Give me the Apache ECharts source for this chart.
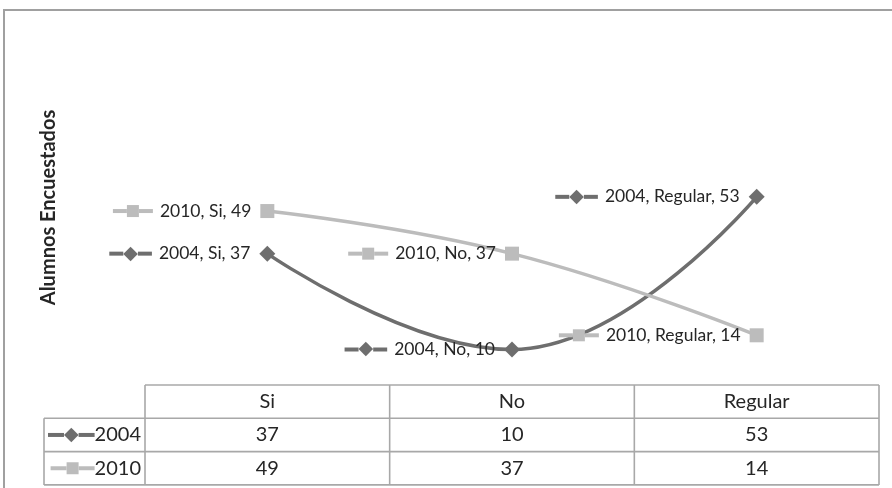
<!DOCTYPE html>
<html>
<head>
<meta charset="utf-8">
<script src="https://cdn.jsdelivr.net/npm/echarts@6/dist/echarts.min.js"></script>
<style>
  html, body { margin: 0; padding: 0; background: #ffffff; }
  #chart { width: 892px; height: 488px; }
</style>
</head>
<body>
<div id="chart"></div>
<script>
// Survey answers per year
const categories = ['Si', 'No', 'Regular'];
const seriesNames = ['2004', '2010'];
const values2004 = [37, 10, 53];
const values2010 = [49, 37, 14];
const yAxisTitle = 'Alumnos Encuestados';

const seriesValues = [values2004, values2010];
const FONT = 'Lato, "Open Sans", sans-serif';
const TEXT_COLOR = '#262626';
const COLORS = ['#6e6e6e', '#bcbcbc'];
const SYMBOLS = ['diamond', 'rect'];
const SYMBOL_SIZES = [16, 14];
const GRID_LINE = '#a8a8a8';
const ROW_H = 33.3;

// Rich-text styles for a small legend key (line + marker) inside a label
function keyRich(color, idx, lineW) {
  const rich = {};
  rich['ln' + idx] = { width: lineW, height: 4, backgroundColor: color };
  if (SYMBOLS[idx] === 'diamond') {
    rich['mk' + idx] = { color: color, fill: color, fontSize: 19, fontFamily: 'DejaVu Sans', lineHeight: 20 };
  } else {
    rich['mk' + idx] = { width: 12, height: 12, backgroundColor: color };
  }
  return rich;
}
function keyText(idx) {
  const mk = SYMBOLS[idx] === 'diamond' ? '◆' : ' ';
  return '{ln' + idx + '|}{mk' + idx + '|' + mk + '}{ln' + idx + '|}';
}

const chart = echarts.init(document.getElementById('chart'), null, { renderer: 'canvas' });

const series = seriesNames.map((name, i) => {
  const rich = Object.assign(keyRich(COLORS[i], i, 14), {
    gap: { width: 7 },
    t: { fontFamily: FONT, fontSize: 17.5, color: TEXT_COLOR, lineHeight: 20 }
  });
  return {
    name: name,
    type: 'line',
    smooth: 0.45,
    data: seriesValues[i],
    symbol: SYMBOLS[i],
    symbolSize: SYMBOL_SIZES[i],
    lineStyle: { color: COLORS[i], width: 3.5 },
    itemStyle: { color: COLORS[i] },
    label: {
      show: true,
      position: 'left',
      distance: 9,
      formatter: p => keyText(i) + '{gap|}{t|' + p.seriesName + ', ' + p.name + ', ' + p.value + '}',
      rich: rich
    }
  };
});

chart.setOption({
  animation: false,
  backgroundColor: '#ffffff',
  grid: { left: 145, right: 13, top: 30, bottom: 103, containLabel: false },
  xAxis: {
    type: 'category',
    data: categories,
    boundaryGap: true,
    axisLine: { show: false },
    axisTick: { show: false },
    axisLabel: { show: false },
    splitLine: { show: false }
  },
  yAxis: {
    type: 'value',
    min: 0,
    max: 100,
    name: yAxisTitle,
    nameLocation: 'middle',
    nameGap: 86,
    nameTextStyle: { fontFamily: FONT, fontSize: 20, fontWeight: 'bold', color: TEXT_COLOR },
    axisLine: { show: false },
    axisTick: { show: false },
    axisLabel: { show: false },
    splitLine: { show: false }
  },
  series: series
});

// Data table under the plot, aligned with the category axis
const c0 = chart.convertToPixel({ xAxisIndex: 0 }, categories[0]);
const c1 = chart.convertToPixel({ xAxisIndex: 0 }, categories[1]);
const band = c1 - c0;
const colLeft = c0 - band / 2;
const tableRight = colLeft + band * categories.length;
const tableTop = chart.convertToPixel({ yAxisIndex: 0 }, 0);
const legendLeft = 44;
const nRows = seriesNames.length + 1;

const elements = [];
// outer chart frame
elements.push({
  type: 'rect', silent: true,
  shape: { x: 4, y: 10, width: 1000, height: 1000 },
  style: { fill: 'none', stroke: '#a0a0a0', lineWidth: 2 }
});
const line = (x1, y1, x2, y2) => elements.push({
  type: 'line', silent: true,
  shape: { x1, y1, x2, y2 },
  style: { stroke: GRID_LINE, lineWidth: 1.6 }
});
// horizontal rules
line(colLeft, tableTop, tableRight, tableTop);
for (let r = 1; r <= nRows; r++) {
  line(legendLeft, tableTop + r * ROW_H, tableRight, tableTop + r * ROW_H);
}
// vertical rules
line(legendLeft, tableTop + ROW_H, legendLeft, tableTop + nRows * ROW_H);
for (let c = 0; c <= categories.length; c++) {
  line(colLeft + c * band, tableTop, colLeft + c * band, tableTop + nRows * ROW_H);
}
const cellText = (txt, x, y, align, rich) => elements.push({
  type: 'text', silent: true,
  x: x, y: y,
  style: {
    text: txt, x: 0, y: 0, align: align, verticalAlign: 'middle',
    font: '20px ' + FONT, fill: TEXT_COLOR, rich: rich
  }
});
// header row
categories.forEach((cat, c) => {
  cellText(cat, colLeft + (c + 0.5) * band, tableTop + ROW_H / 2, 'center');
});
// one row per series
seriesNames.forEach((name, i) => {
  const yMid = tableTop + (i + 1.5) * ROW_H;
  const rich = Object.assign(keyRich(COLORS[i], i, 16), {
    t: { fontFamily: FONT, fontSize: 20, fill: TEXT_COLOR }
  });
  cellText(keyText(i) + '{t|' + name + '}', colLeft - 4, yMid, 'right', rich);
  seriesValues[i].forEach((v, c) => {
    cellText(String(v), colLeft + (c + 0.5) * band, yMid, 'center');
  });
});

chart.setOption({ graphic: { elements: elements } });
</script>
</body>
</html>
